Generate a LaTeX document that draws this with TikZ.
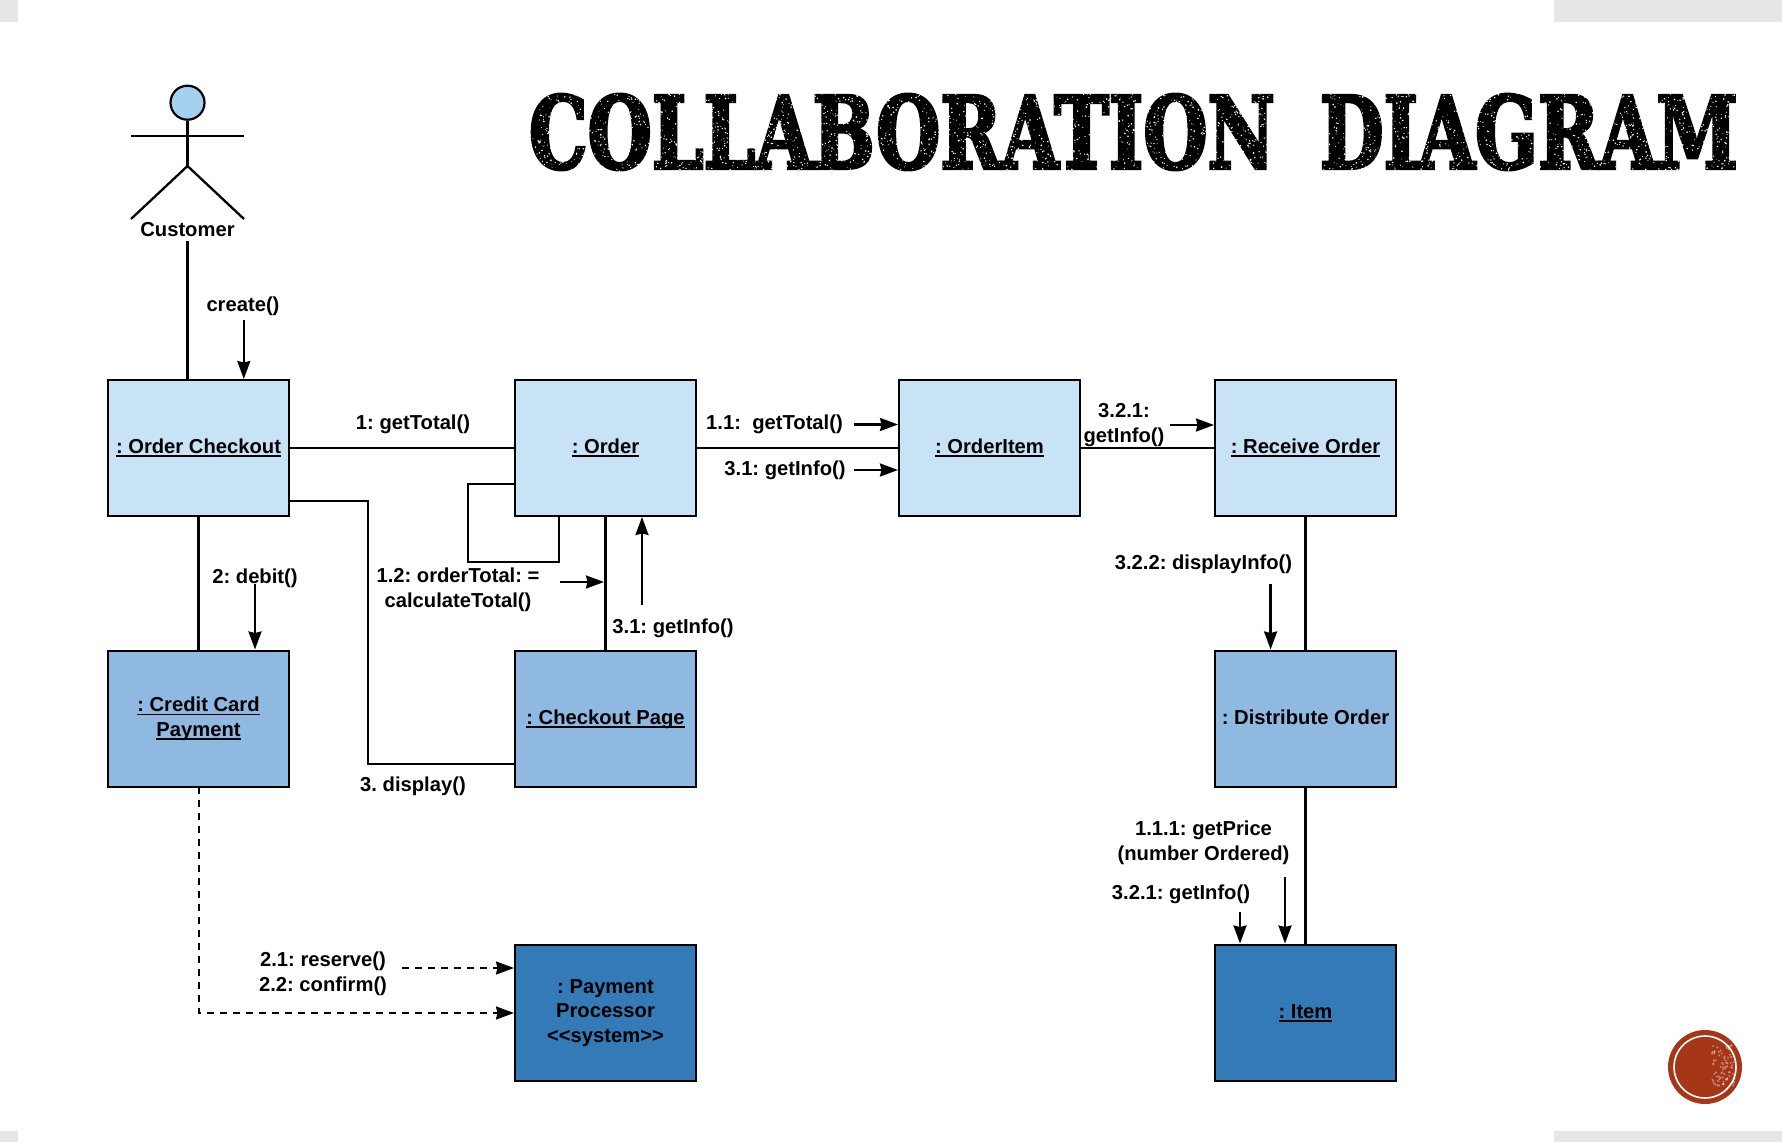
\documentclass[tikz,border=0pt]{standalone}
\usepackage{fontspec}
\setmainfont{Liberation Sans}
\newfontfamily\titlefont[FakeBold=3.5]{DejaVu Serif Condensed Bold}
\usetikzlibrary{arrows.meta}
\definecolor{boxlight}{HTML}{C8E3F6}
\definecolor{boxmid}{HTML}{8FB9E0}
\definecolor{boxdark}{HTML}{337AB7}
\definecolor{headblue}{HTML}{A5D1F0}
\definecolor{sealred}{HTML}{A63618}
\definecolor{cornergray}{HTML}{E6E6E6}
\newsavebox{\ulbox}
\newcommand{\ulbar}[1]{\sbox{\ulbox}{#1}\leavevmode\rlap{\rule[-3.4pt]{\wd\ulbox}{1.6pt}}\usebox{\ulbox}}
\tikzset{
  objbox/.style={draw=black,line width=2.1pt,minimum width=181pt,minimum height=136pt,inner sep=0pt,align=center,
    font=\frenchspacing\bfseries\fontsize{20.2}{24.5}\selectfont,text=black},
  lightbox/.style={objbox,fill=boxlight},
  midbox/.style={objbox,fill=boxmid},
  darkbox/.style={objbox,fill=boxdark},
  lab/.style={inner sep=0pt,yshift=-2pt,align=center,font=\frenchspacing\bfseries\fontsize{20.2}{24.5}\selectfont,text=black},
  conn/.style={draw=black,line width=2.3pt},
  msg/.style={draw=black,line width=2.3pt,-{Stealth[length=18pt,width=13pt,inset=1.5pt]}},
  dmsg/.style={draw=black,line width=1.9pt,dash pattern=on 7pt off 6pt,-{Stealth[length=18pt,width=13pt,inset=1.5pt]}},
}
\begin{document}
\begin{tikzpicture}[x=1pt,y=-1pt]
\useasboundingbox (0,0) rectangle (1782,1142);
\fill[white] (0,0) rectangle (1782,1142);
% slide corners
\fill[cornergray] (0,0) rectangle (18,22);
\fill[cornergray] (1554,0) rectangle (1782,22);
\fill[cornergray] (0,1131) rectangle (18,1142);
\fill[cornergray] (1554,1131) rectangle (1782,1142);
% title
\node[inner sep=0pt] (title) at (1133.5,132)
  {\resizebox{1208pt}{74pt}{\titlefont COLLABORATION\hspace{0.55em}DIAGRAM}};
\pgfmathsetseed{11}
\foreach \i in {1,...,4200}{
  \pgfmathsetmacro\sx{532+1203*rnd}
  \pgfmathsetmacro\sy{91+83*rnd}
  \pgfmathsetmacro\sr{0.4+0.5*rnd}
  \fill[white] (\sx,\sy) circle (\sr);
}
% seal
\fill[sealred] (1705,1067) circle (37);
\draw[white,line width=1.6pt] (1705,1067) circle (31);
\foreach \i in {1,...,80}{
  \pgfmathsetmacro\sx{1712+23*rnd}
  \pgfmathsetmacro\sy{1045+42*rnd}
  \fill[white,opacity=.4] (\sx,\sy) circle (1.1);
}
% objects
\node[lightbox] (oc) at (198.5,448) {\raisebox{3pt}{\ulbar{: Order Checkout}}};
\node[lightbox] (order) at (605.5,448) {\raisebox{3pt}{\ulbar{: Order}}};
\node[lightbox] (oi) at (989.5,448) {\raisebox{3pt}{\ulbar{: OrderItem}}};
\node[lightbox] (ro) at (1305.5,448) {\raisebox{3pt}{\ulbar{: Receive Order}}};
\node[midbox] (cc) at (198.5,719) {\ulbar{: Credit Card}\\\ulbar{Payment}};
\node[midbox] (cp) at (605.5,719) {\raisebox{3pt}{\ulbar{: Checkout Page}}};
\node[midbox] (do) at (1305.5,719) {\raisebox{4pt}{: Distribute Order}};
\node[darkbox] (pp) at (605.5,1013) {: Payment\\Processor\\{<}{<}system{>}{>}};
\node[darkbox] (item) at (1305.5,1013) {\raisebox{3pt}{\ulbar{: Item}}};
% actor
\node[circle,draw=black,line width=2.2pt,fill=headblue,minimum size=34pt,inner sep=0pt] (head) at (187.5,102.7) {};
\coordinate (hip) at (187.5,166);
\coordinate (armL) at (131,136);
\coordinate (armR) at (244,136);
\coordinate (legL) at (131,219);
\coordinate (legR) at (244,219);
\draw[conn] (head.south) -- (hip);
\draw[conn] (armL) -- (armR);
\draw[conn] (legL) -- (hip) -- (legR);
\node[lab] (cust) at (187.5,227.5) {Customer};
\coordinate (custLow) at (187.5,241);
\coordinate (ocTop) at (187.5,380);
\draw[conn] (custLow) -- (ocTop);
% connectors
\draw[conn] (oc.east) -- (order.west);
\draw[conn] (order.east) -- (oi.west);
\draw[conn] (oi.east) -- (ro.west);
\draw[conn] (oc.south) -- (cc.north);
\draw[conn] (order.south) -- (cp.north);
\draw[conn] (ro.south) -- (do.north);
\draw[conn] (do.south) -- (item.north);
\coordinate (ocE) at (290,500.7);
\coordinate (cpW) at (515,764);
\draw[conn] (ocE) -| (367.7,764) -- (cpW);
\coordinate (ordW) at (515,484);
\coordinate (ordS) at (558.7,516);
\draw[conn] (ordW) -- (468,484) -- (468,561.7) -- (558.7,561.7) -- (ordS);
% message arrows
\coordinate (a1s) at (243.8,320); \coordinate (a1e) at (243.8,379);
\draw[msg] (a1s) -- (a1e);
\coordinate (a2s) at (853.5,424.5); \coordinate (a2e) at (898,424.5);
\draw[msg] (a2s) -- (a2e);
\coordinate (a3s) at (853.5,470); \coordinate (a3e) at (898,470);
\draw[msg] (a3s) -- (a3e);
\coordinate (a4s) at (1170,425); \coordinate (a4e) at (1214,425);
\draw[msg] (a4s) -- (a4e);
\coordinate (a5s) at (255,584); \coordinate (a5e) at (255,649.5);
\draw[msg] (a5s) -- (a5e);
\coordinate (a6s) at (560,582); \coordinate (a6e) at (604,582);
\draw[msg] (a6s) -- (a6e);
\coordinate (a7s) at (642,605); \coordinate (a7e) at (642,517);
\draw[msg] (a7s) -- (a7e);
\coordinate (a8s) at (1270.6,584); \coordinate (a8e) at (1270.6,649.5);
\draw[msg] (a8s) -- (a8e);
\coordinate (a9s) at (1240,911.5); \coordinate (a9e) at (1240,943.5);
\draw[msg] (a9s) -- (a9e);
\coordinate (a10s) at (1285,877); \coordinate (a10e) at (1285,943.5);
\draw[msg] (a10s) -- (a10e);
\coordinate (d1s) at (402,968); \coordinate (d1e) at (514,968);
\draw[dmsg] (d1s) -- (d1e);
\coordinate (ccS) at (199,787); \coordinate (ppW) at (514,1013);
\draw[dmsg] (ccS) |- (ppW);
% labels
\node[lab] (l1) at (243,304.6) {create()};
\node[lab] (l2) at (413,422.5) {1: getTotal()};
\node[lab] (l3) at (774.5,422.5) {1.1:\ \ getTotal()};
\node[lab] (l4) at (785,468) {3.1: getInfo()};
\node[lab] (l5) at (1124,423) {3.2.1:\\getInfo()};
\node[lab] (l6) at (255,576) {2: debit()};
\node[lab] (l7) at (458,588) {1.2: orderTotal: =\\calculateTotal()};
\node[lab] (l8) at (673,626) {3.1: getInfo()};
\node[lab] (l9) at (413,784) {3. display()};
\node[lab] (l10) at (1203.5,562.5) {3.2.2: displayInfo()};
\node[lab] (l11) at (1203.5,841) {1.1.1: getPrice\\(number Ordered)};
\node[lab] (l12) at (1181,892) {3.2.1: getInfo()};
\node[lab] (l13) at (323,972) {2.1: reserve()\\2.2: confirm()};
\end{tikzpicture}
\end{document}
